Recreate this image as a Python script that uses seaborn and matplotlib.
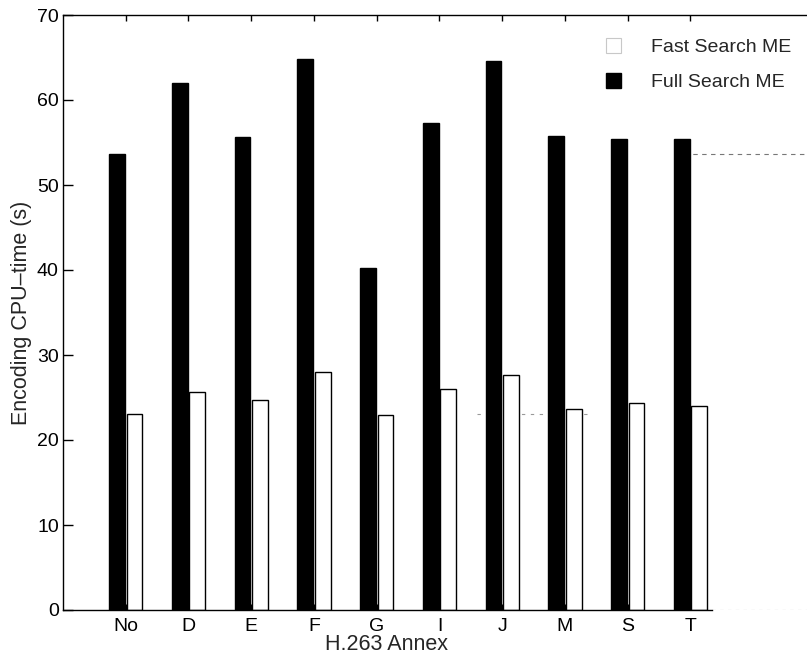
import pandas as pd
import seaborn as sns
import matplotlib.pyplot as plt
from matplotlib.patches import Patch

annexes = ["No", "D", "E", "F", "G", "I", "J", "M", "S", "T"]
full_search = [53.7, 62.0, 55.7, 64.8, 40.2, 57.3, 64.6, 55.8, 55.4, 55.4]
fast_search = [23.1, 25.7, 24.7, 28.0, 22.9, 26.0, 27.7, 23.6, 24.3, 24.0]
methods = ["Full Search ME", "Fast Search ME"]


def main():
    df = pd.DataFrame({
        "Annex": annexes * 2,
        "Method": [methods[0]] * len(annexes) + [methods[1]] * len(annexes),
        "Time": full_search + fast_search,
    })

    sns.set_style("ticks")
    plt.rcParams["font.family"] = ["Liberation Sans", "DejaVu Sans"]

    fig = plt.figure(figsize=(8.07, 6.54), dpi=100)
    # axes run slightly past the right edge, like the cropped original
    ax = fig.add_axes([63 / 807, 44 / 654, 753 / 807, 595 / 654])

    sns.barplot(data=df, x="Annex", y="Time", hue="Method", hue_order=methods,
                palette=["black", "white"], width=0.55, edgecolor="black",
                linewidth=1.0, saturation=1, errorbar=None, legend=False, ax=ax)

    # small gap between the paired bars
    for p in ax.patches:
        w = p.get_width()
        p.set_x(p.get_x() + 0.012)
        p.set_width(w - 0.024)

    # faint reference lines at the baseline ("No") values
    ax.hlines(full_search[0], 8.75, 11, colors="#777777", linestyles=(0, (4, 4)), lw=0.8, zorder=0)
    ax.hlines(fast_search[0], 5.6, 7.4, colors="#999999", linestyles=(0, (3, 5)), lw=0.8, zorder=0)
    ax.hlines(0, 9.35, 11, colors="#999999", linestyles=(0, (3, 4)), lw=0.8, zorder=0)

    ax.set_xlim(-1, 11)
    ax.set_ylim(0, 70)
    ax.set_yticks(range(0, 71, 10))

    for s in ["left", "top", "bottom"]:
        ax.spines[s].set_color("black")
        ax.spines[s].set_linewidth(1.0)
    ax.spines["right"].set_visible(False)
    ax.spines["bottom"].set_bounds(-1, 9.35)

    ax.tick_params(axis="both", direction="in", labelsize=14, colors="black")
    ax.tick_params(axis="y", length=7, width=1, pad=3)
    ax.tick_params(axis="x", length=4, width=1, top=True, pad=6)

    ax.set_xlabel("H.263 Annex", fontsize=15.5)
    ax.set_ylabel("Encoding CPU\u2013time (s)", fontsize=15.5)
    ax.xaxis.set_label_coords(0.43, -0.040)
    ax.yaxis.set_label_coords(-0.041, 0.5)

    handles = [Patch(facecolor="white", edgecolor="#c8c8c8", lw=0.8),
               Patch(facecolor="black", edgecolor="black")]
    ax.legend(handles, ["Fast Search ME", "Full Search ME"], loc="upper left",
              bbox_to_anchor=(588 / 807, 1 - 20 / 654), bbox_transform=fig.transFigure,
              frameon=False, fontsize=14, handlelength=0.78, handleheight=0.85,
              handletextpad=1.55, labelspacing=0.85)

    fig.savefig("out.png", dpi=100)


if __name__ == "__main__":
    main()
